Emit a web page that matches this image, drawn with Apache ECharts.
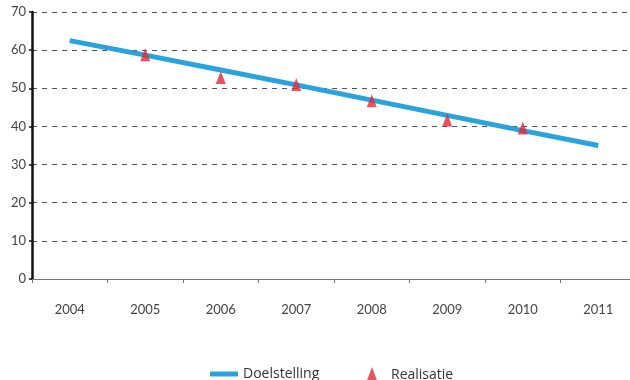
<!DOCTYPE html>
<html><head><meta charset="utf-8">
<script src="https://cdn.jsdelivr.net/npm/echarts@6/dist/echarts.min.js"></script>
<style>html,body{margin:0;padding:0;background:#fff;overflow:hidden}#c{width:636px;height:380px}</style>
</head><body><div id="c"></div>
<script>
var years = ['2004','2005','2006','2007','2008','2009','2010','2011'];
var doelstelling = [62.5, 58.7, 54.8, 50.9, 46.9, 42.9, 38.9, 35.0];
var realisatie = [null, 58.8, 52.8, 51.0, 46.7, 41.7, 39.6, null];
var yTicks = [0, 10, 20, 30, 40, 50, 60, 70];

var chart = echarts.init(document.getElementById('c'));
chart.setOption({
  animation: false,
  textStyle: { fontFamily: 'Lato' },
  grid: { left: 32, right: 0, top: 12, height: 267 },
  legend: [
    {
      top: 362, left: 205,
      textStyle: { fontSize: 14, color: '#333', fontFamily: 'Open Sans' },
      data: [{ name: 'Doelstelling', icon: 'rect', itemStyle: { color: '#29a3dc' } }],
      itemWidth: 28, itemHeight: 5, itemGap: 4
    },
    {
      top: 362, left: 361,
      textStyle: { fontSize: 14, color: '#333', fontFamily: 'Open Sans', padding: [0, 0, 0, 8] },
      data: [{ name: 'Realisatie', icon: 'path://M0,16 L6,0 L12,16 Z', itemStyle: { color: '#e0293a' } }],
      itemWidth: 12, itemHeight: 16
    }
  ],
  xAxis: {
    type: 'category', data: years, boundaryGap: true,
    axisLine: { lineStyle: { color: '#777', width: 1 } },
    axisTick: { show: true, length: 4, lineStyle: { color: '#777' } },
    axisLabel: { color: '#444', fontSize: 13, margin: 24 }
  },
  yAxis: {
    type: 'value', min: yTicks[0], max: yTicks[yTicks.length - 1], interval: 10,
    axisLine: { show: true, lineStyle: { color: '#111', width: 2.5 } },
    axisTick: { show: true, length: 3, lineStyle: { color: '#111', width: 1.5 } },
    axisLabel: { color: '#444', fontSize: 13, margin: 6 },
    splitLine: { show: true, lineStyle: { color: '#555', type: [5, 5], width: 1 } }
  },
  series: [
    {
      name: 'Doelstelling', type: 'line', data: doelstelling,
      symbol: 'none', lineStyle: { color: '#29a3dc', width: 5 },
      itemStyle: { color: '#29a3dc' }, z: 2
    },
    {
      name: 'Realisatie', type: 'scatter', data: realisatie,
      symbol: 'triangle', symbolSize: [10, 13],
      itemStyle: { color: '#e0293a' }, z: 3
    }
  ]
});
</script></body></html>
